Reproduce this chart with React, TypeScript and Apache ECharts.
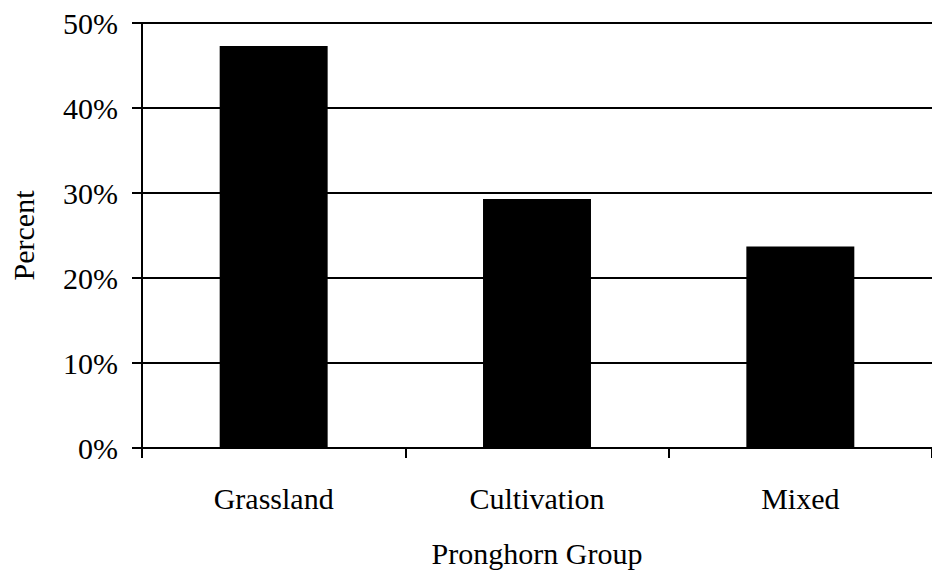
import React, { useEffect, useRef } from "react";
import * as echarts from "echarts";

const categories = ["Grassland", "Cultivation", "Mixed"];
const percentValues = [47.3, 29.3, 23.7];
const yTicks = [0, 10, 20, 30, 40, 50];

export default function App() {
  const ref = useRef<HTMLDivElement>(null);
  useEffect(() => {
    if (!ref.current) return;
    const chart = echarts.init(ref.current, undefined, { renderer: "svg" });
    const font = "'Liberation Serif', 'Times New Roman', serif";
    chart.setOption({
      animation: false,
      backgroundColor: "#fff",
      grid: { left: 140, right: -9, top: 23, bottom: 123, containLabel: false },
      xAxis: {
        type: "category",
        data: categories,
        name: "Pronghorn Group",
        nameLocation: "middle",
        nameGap: 90,
        nameTextStyle: { fontFamily: font, fontSize: 30, color: "#000" },
        axisLine: { lineStyle: { color: "#000", width: 2 } },
        axisTick: { show: true, length: 10, lineStyle: { color: "#000", width: 2 } },
        axisLabel: { fontFamily: font, fontSize: 30, color: "#000", margin: 35 },
      },
      yAxis: {
        type: "value",
        min: yTicks[0],
        max: yTicks[yTicks.length - 1],
        interval: 10,
        name: "Percent",
        nameLocation: "middle",
        nameGap: 104,
        nameTextStyle: { fontFamily: font, fontSize: 30, color: "#000" },
        axisLine: { show: true, lineStyle: { color: "#000", width: 2 } },
        axisTick: { show: true, length: 10, lineStyle: { color: "#000", width: 2 } },
        axisLabel: {
          fontFamily: font,
          fontSize: 30,
          color: "#000",
          margin: 24,
          formatter: (v: number) => `${v}%`,
        },
        splitLine: { show: true, lineStyle: { color: "#000", width: 2 } },
      },
      series: [
        {
          type: "bar",
          data: percentValues,
          barWidth: "41%",
          itemStyle: { color: "#000" },
        },
      ],
    });
    return () => chart.dispose();
  }, []);
  return <div ref={ref} style={{ width: 932, height: 573, position: "fixed", left: 0, top: 0 }} />;
}
